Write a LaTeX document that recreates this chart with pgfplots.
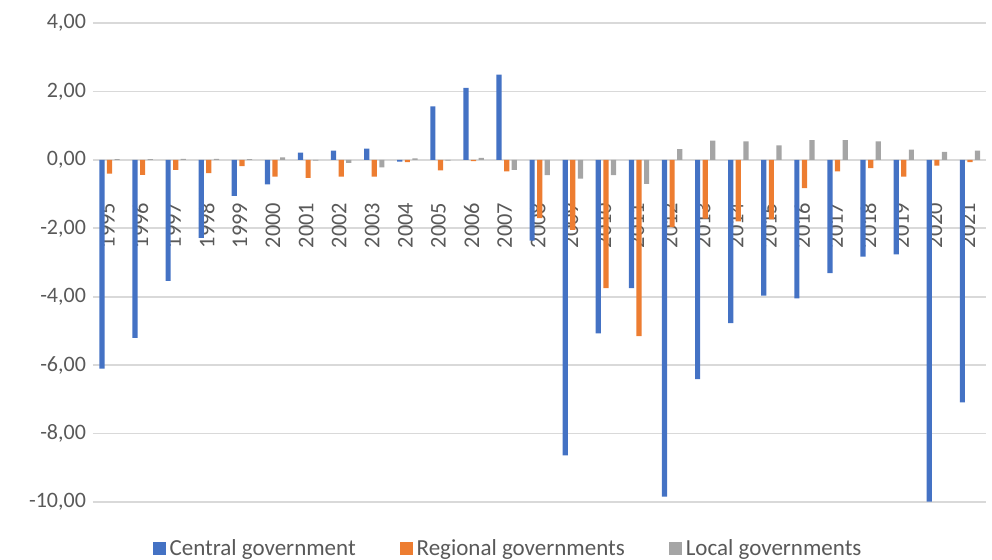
\documentclass[border=0pt]{standalone}
\usepackage{pgfplots}
\pgfplotsset{compat=1.18}
\usepackage{fontspec}
\setmainfont{Carlito}
\definecolor{cblue}{HTML}{4472C4}
\definecolor{corange}{HTML}{ED7D31}
\definecolor{cgray}{HTML}{A5A5A5}
\definecolor{ctext}{HTML}{595959}
\definecolor{cgrid}{HTML}{D9D9D9}
\begin{document}
\begin{tikzpicture}
\useasboundingbox (-46.5pt,-29pt) rectangle (449.5pt,251pt);
\begin{axis}[
  at={(0,0)}, anchor=south west,
  scale only axis,
  width=446.75pt, height=239.5pt,
  ybar=1.2pt, bar width=2.6pt,
  xmin=-0.5, xmax=26.5,
  ymin=-10, ymax=4,
  ytick={-10,-8,...,4},
  xtick={0,...,26},
  xticklabels={1995,1996,1997,1998,1999,2000,2001,2002,2003,2004,2005,2006,2007,2008,2009,2010,2011,2012,2013,2014,2015,2016,2017,2018,2019,2020,2021},
  axis x line*=middle, axis y line*=left,
  hide obscured x ticks=false, hide obscured y ticks=false,
  axis line style={draw=none},
  major tick style={draw=none},
  ymajorgrids, grid style={cgrid, line width=0.8pt},
  yticklabel style={font=\fontsize{11}{13}\selectfont, text=ctext, /pgf/number format/.cd, fixed, fixed zerofill, precision=2, use comma, assume math mode=true},
  xticklabel style={font=\fontsize{11.2}{12}\selectfont, text=ctext, yshift=-16pt, xshift=-1pt, rotate=90, anchor=east, inner sep=1pt},
  legend style={draw=none, at={(axis description cs:0.4656,-0.098)}, anchor=center, legend columns=3, font=\fontsize{11.5}{13}\selectfont, text=ctext, /tikz/every even column/.append style={column sep=20pt}},
  legend image code/.code={\fill[#1] (0pt,-3.25pt) rectangle (6.5pt,3.25pt);},
  legend cell align=left,
]
\addplot[fill=cblue, draw=none] coordinates {
(0,-6.10) (1,-5.20) (2,-3.54) (3,-2.28) (4,-1.05) (5,-0.72) (6,0.21) (7,0.27) (8,0.33) (9,-0.05)
(10,1.56) (11,2.10) (12,2.49) (13,-2.36) (14,-8.64) (15,-5.07) (16,-3.75) (17,-9.84) (18,-6.41) (19,-4.77)
(20,-3.97) (21,-4.05) (22,-3.31) (23,-2.83) (24,-2.76) (25,-9.99) (26,-7.09)};
\addplot[fill=corange, draw=none] coordinates {
(0,-0.40) (1,-0.44) (2,-0.29) (3,-0.39) (4,-0.18) (5,-0.49) (6,-0.53) (7,-0.49) (8,-0.49) (9,-0.07)
(10,-0.31) (11,-0.04) (12,-0.34) (13,-1.70) (14,-2.05) (15,-3.75) (16,-5.15) (17,-1.97) (18,-1.72) (19,-1.80)
(20,-1.74) (21,-0.83) (22,-0.34) (23,-0.24) (24,-0.49) (25,-0.17) (26,-0.07)};
\addplot[fill=cgray, draw=none] coordinates {
(0,0.02) (1,0.02) (2,0.03) (3,0.03) (4,0.02) (5,0.07) (6,-0.02) (7,-0.09) (8,-0.22) (9,0.04)
(10,-0.02) (11,0.06) (12,-0.29) (13,-0.45) (14,-0.55) (15,-0.45) (16,-0.70) (17,0.31) (18,0.56) (19,0.54)
(20,0.42) (21,0.58) (22,0.58) (23,0.54) (24,0.30) (25,0.23) (26,0.27)};
\legend{Central government, Regional governments, Local governments}
\end{axis}
\end{tikzpicture}
\end{document}
